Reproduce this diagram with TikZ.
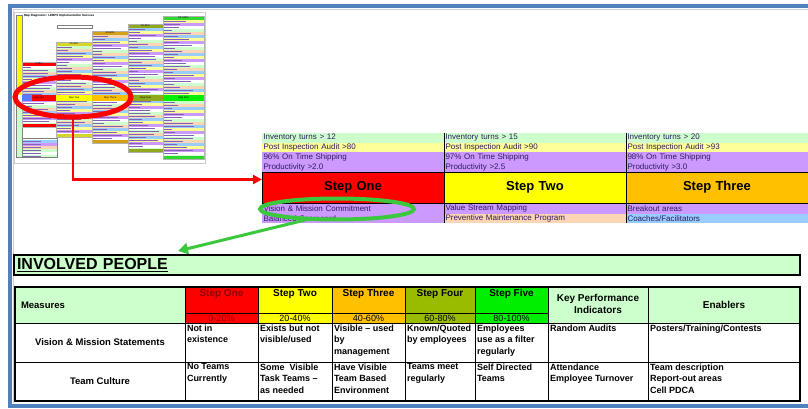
\documentclass[tikz,border=0pt]{standalone}
\usepackage{fontspec}
\setmainfont{Liberation Sans}
\usepackage{tikz}
\usetikzlibrary{shapes.geometric, arrows.meta, positioning, calc}
\definecolor{frame-blue}{HTML}{4F81BD}
\definecolor{lean-red}{HTML}{FF0000}
\definecolor{dark-red}{HTML}{8C0000}
\definecolor{lean-yellow}{HTML}{FFFF00}
\definecolor{lean-orange}{HTML}{FFC000}
\definecolor{lean-olive}{HTML}{99BB00}
\definecolor{lean-green}{HTML}{00EE00}
\definecolor{pale-green}{HTML}{CCFFCC}
\definecolor{pale-yellow}{HTML}{FFFF99}
\definecolor{lavender}{HTML}{CC99FF}
\definecolor{peach}{HTML}{FCD5B4}
\definecolor{sky}{HTML}{99CCFF}
\definecolor{ink}{HTML}{2E1A5E}
\definecolor{ring-green}{HTML}{3CC83C}
\definecolor{thumb-yellow}{HTML}{D6D62A}
\definecolor{thumb-gold}{HTML}{D4A017}
\definecolor{thumb-olive}{HTML}{8FA81C}
\definecolor{thumb-green}{HTML}{2ED82E}
\colorlet{thumb0}{lavender}
\colorlet{thumb1}{white}
\colorlet{thumb2}{pale-green}
\colorlet{thumb3}{peach}
\colorlet{thumb4}{sky}
\colorlet{thumb5}{pale-yellow}

\begin{document}
\begin{tikzpicture}[x=1pt, y=-1pt,
    every node/.style={inner sep=0pt, outer sep=0pt},
    band/.style={anchor=north west, minimum width=182pt, minimum height=9.5pt, text width=179pt, inner xsep=1.5pt, align=left, font=\fontsize{8}{8}\selectfont, text=ink},
    stepband/.style={band, draw=black, line width=1pt, minimum height=31pt, align=center, text=black, font=\bfseries\fontsize{13}{14}\selectfont},
    ring/.style={ellipse, line width=5pt},
    tiny/.style={font=\fontsize{2.5}{3}\selectfont},
    stephead/.style={font=\bfseries\fontsize{10}{11}\selectfont},
    pcthead/.style={font=\fontsize{9}{10}\selectfont},
    rowlabel/.style={font=\bfseries\fontsize{9.5}{11}\selectfont},
    cell/.style={anchor=north west, align=left, font=\bfseries\fontsize{9}{11.5}\selectfont}
]
    \useasboundingbox (0,0) rectangle (808,409);
    \draw [frame-blue, line width=4pt] (808,6) -- (10,6) -- (10,406) -- (808,406);
    \draw [frame-blue!35, line width=1pt] (808,9.5) -- (13.5,9.5) -- (13.5,402.5);

    % thumbnail of the whole map
    \draw [gray!40] (14,12) rectangle (205,163);
    \node (thumbtitle) [anchor=west, font=\bfseries\fontsize{3}{3}\selectfont] at (24,15.5) {Map Diagnostic: LEBPS Implementation Success};
    \fill [lean-yellow] (16,15) rectangle (22,95);
    \fill [pale-green] (16,101) rectangle (22,157);
    \draw [gray, line width=0.3pt] (16,15) rectangle (22,157);
    \draw [gray, line width=0.4pt] (57,25) rectangle (92,28);
    \pgfmathsetseed{7}
    \foreach \i/\xa/\xb/\ya/\yb/\hc/\pc in {1/22/56/62/127/lean-red/0-20\%, 2/56/92/42/137/thumb-yellow/20-40\%, 3/92/128/31/143/thumb-gold/40-60\%, 4/128/163/24/152/thumb-olive/60-80\%, 5/163/204/16/159/thumb-green/80-100\%} {
        \pgfmathtruncatemacro{\n}{(\yb-\ya-8)/3}
        \foreach \k in {0,...,\n} {
            \pgfmathtruncatemacro{\m}{mod(\k*7+\i,6)}
            \pgfmathrandominteger{\w}{8}{30}
            \fill [thumb\m] (\xa,\ya+4+3*\k) rectangle (\xb,\ya+7+3*\k);
            \draw [ink!45!lavender, line width=0.4pt] (\xa+1,\ya+5.5+3*\k) -- ++(\w,0);
        }
        \fill [\hc] (\xa,\ya) rectangle (\xb,\ya+4);
        \fill [\hc] (\xa,\yb-3) rectangle (\xb,\yb);
        \draw [gray!60, line width=0.3pt] (\xa,\ya) rectangle (\xb,\yb);
        \node (thumbpc\i) [tiny] at ($(\xa,\ya+2)!0.5!(\xb,\ya+2)$) {\pc};
    }
    \foreach \i/\xa/\xb/\bc/\nm in {1/22/56/lean-red/One, 2/56/92/lean-yellow/Two, 3/92/128/lean-orange/Three, 4/128/163/thumb-olive/Four, 5/163/204/lean-green/Five} {
        \fill [\bc] (\xa,95) rectangle (\xb,101);
        \node (thumbstep\i) [tiny] at ($(\xa,98)!0.5!(\xb,98)$) {Step \nm};
    }
    \fill [sky!60!blue] (22,95) rectangle (32,101);
    \fill [white] (22,138) rectangle (57,157);
    \foreach \k/\sc in {0/sky, 1/lavender, 2/peach, 3/pale-green, 4/white, 5/pale-green} {
        \fill [\sc] (22,140+3*\k) rectangle (57,143+3*\k);
        \draw [ink!45!lavender, line width=0.4pt] (23,141.5+3*\k) -- ++(18,0);
    }
    \draw [gray, line width=0.3pt] (22,138) rectangle (57,157);

    % enlarged strip
    \begin{scope}
        \clip (262,130) rectangle (808,222);
        \node (inv1) [band, fill=pale-green] at (262,133) {Inventory turns > 12};
        \node (inv2) [band, fill=pale-green, right=0pt of inv1] {Inventory turns > 15};
        \node (inv3) [band, fill=pale-green, right=0pt of inv2] {Inventory turns > 20};
        \node (aud1) [band, fill=pale-yellow, below=0pt of inv1] {Post Inspection Audit >80};
        \node (aud2) [band, fill=pale-yellow, below=0pt of inv2] {Post Inspection Audit >90};
        \node (aud3) [band, fill=pale-yellow, below=0pt of inv3] {Post Inspection Audit >93};
        \node (ship1) [band, fill=lavender, below=0pt of aud1, minimum height=10pt] {96\% On Time Shipping};
        \node (ship2) [band, fill=lavender, below=0pt of aud2, minimum height=10pt] {97\% On Time Shipping};
        \node (ship3) [band, fill=lavender, below=0pt of aud3, minimum height=10pt] {98\% On Time Shipping};
        \node (prod1) [band, fill=lavender, below=0pt of ship1, minimum height=10pt] {Productivity >2.0};
        \node (prod2) [band, fill=lavender, below=0pt of ship2, minimum height=10pt] {Productivity >2.5};
        \node (prod3) [band, fill=lavender, below=0pt of ship3, minimum height=10pt] {Productivity >3.0};
        \node (step1) [stepband, fill=lean-red, below=0pt of prod1] {Step One};
        \node (step2) [stepband, fill=lean-yellow, below=0pt of prod2] {Step Two};
        \node (step3) [stepband, fill=lean-orange, below=0pt of prod3] {Step Three};
        \node (vis1) [band, fill=lavender, below=0.5pt of step1, minimum height=10pt] {Vision \& Mission Commitment};
        \node (vis2) [band, fill=lavender, below=0.5pt of step2, minimum height=10pt] {Value Stream Mapping};
        \node (vis3) [band, fill=lavender, below=0.5pt of step3, minimum height=10pt] {Breakout areas};
        \node (bal1) [band, fill=lavender, below=0pt of vis1, minimum height=10pt] {\raisebox{-4pt}{Balanced Scorecard}};
        \node (bal2) [band, fill=peach, below=0pt of vis2, minimum height=10pt] {Preventive Maintenance Program};
        \node (bal3) [band, fill=sky, below=0pt of vis3, minimum height=10pt] {Coaches/Facilitators};
        \draw [line width=1pt] (inv1.north east) -- (bal1.south east);
        \draw [line width=1pt] (inv2.north east) -- (bal2.south east);
    \end{scope}

    \node (redring) [ring, draw=lean-red, minimum width=116pt, minimum height=40pt] at (73,97) {};
    \node (greenring) [ring, draw=ring-green, line width=4pt, minimum width=154pt, minimum height=21pt] at (337,209) {};
    \coordinate (drop) at (178,251);
    \draw [lean-red, line width=2.5pt, -{Triangle[length=9pt, width=9pt]}] (redring.south) |- ([yshift=8pt]step1.west);
    \draw [ring-green, line width=3pt, -{Triangle[length=10pt, width=11pt]}] (greenring.200) -- (drop);

    % involved people table
    \node (involved) [draw, line width=2pt, fill=pale-green, anchor=north west, minimum width=786pt, minimum height=20pt, text width=780pt, inner xsep=3pt, align=left, font=\bfseries\fontsize{16}{17}\selectfont] at (14,255) {\underline{INVOLVED PEOPLE}};

    \fill [pale-green] (15,287) rectangle (185,323);
    \fill [lean-red] (185,287) rectangle (258,323);
    \fill [lean-yellow] (258,287) rectangle (332,323);
    \fill [lean-orange] (332,287) rectangle (405,323);
    \fill [lean-olive] (405,287) rectangle (475,323);
    \fill [lean-green] (475,287) rectangle (548,323);
    \fill [pale-green] (548,287) rectangle (800,323);
    \foreach \xc in {185,258,332,405,475,548,648}
        \draw [line width=0.8pt] (\xc,287) -- (\xc,401);
    \draw [line width=0.6pt] (185,313) -- (548,313);
    \draw [line width=0.8pt] (15,323) -- (800,323);
    \draw [line width=0.8pt] (15,362) -- (800,362);
    \draw [line width=1.3pt] (15,287) rectangle (800,401);

    \node (measures) [anchor=west, rowlabel] at (21,305) {Measures};
    \node (h-one) [stephead, text=dark-red] at (221.5,294) {Step One};
    \node (h-two) [stephead] at (295,294) {Step Two};
    \node (h-three) [stephead] at (368.5,294) {Step Three};
    \node (h-four) [stephead] at (440,294) {Step Four};
    \node (h-five) [stephead] at (511.5,294) {Step Five};
    \node (p-one) [pcthead, text=dark-red] at (221.5,318.5) {0-20\%};
    \node (p-two) [pcthead] at (295,318.5) {20-40\%};
    \node (p-three) [pcthead] at (368.5,318.5) {40-60\%};
    \node (p-four) [pcthead] at (440,318.5) {60-80\%};
    \node (p-five) [pcthead] at (511.5,318.5) {80-100\%};
    \node (kpi) [stephead, align=center] at (598,304) {Key Performance\\[1pt]Indicators};
    \node (enablers) [stephead] at (724,305) {Enablers};

    \node (vm) [rowlabel] at (100,342) {Vision \& Mission Statements};
    \node (vm-one) [cell] at (187,324.5) {Not in\\existence};
    \node (vm-two) [cell] at (260,324.5) {Exists but not\\visible/used};
    \node (vm-three) [cell] at (334,324.5) {Visible -- used\\by\\management};
    \node (vm-four) [cell] at (407,324.5) {Known/Quoted\\by employees};
    \node (vm-five) [cell] at (477,324.5) {Employees\\use as a filter\\regularly};
    \node (vm-kpi) [cell] at (550,324.5) {Random Audits};
    \node (vm-enab) [cell] at (650,324.5) {Posters/Training/Contests};

    \node (tc) [rowlabel] at (100,381) {Team Culture};
    \node (tc-one) [cell] at (187,363.5) {No Teams\\Currently};
    \node (tc-two) [cell] at (260,363.5) {Some\ \ Visible\\Task Teams --\\as needed};
    \node (tc-three) [cell] at (334,363.5) {Have Visible\\Team Based\\Environment};
    \node (tc-four) [cell] at (407,363.5) {Teams meet\\regularly};
    \node (tc-five) [cell] at (477,363.5) {Self Directed\\Teams};
    \node (tc-kpi) [cell] at (550,363.5) {Attendance\\Employee Turnover};
    \node (tc-enab) [cell] at (650,363.5) {Team description\\Report-out areas\\Cell PDCA};
\end{tikzpicture}
\end{document}
